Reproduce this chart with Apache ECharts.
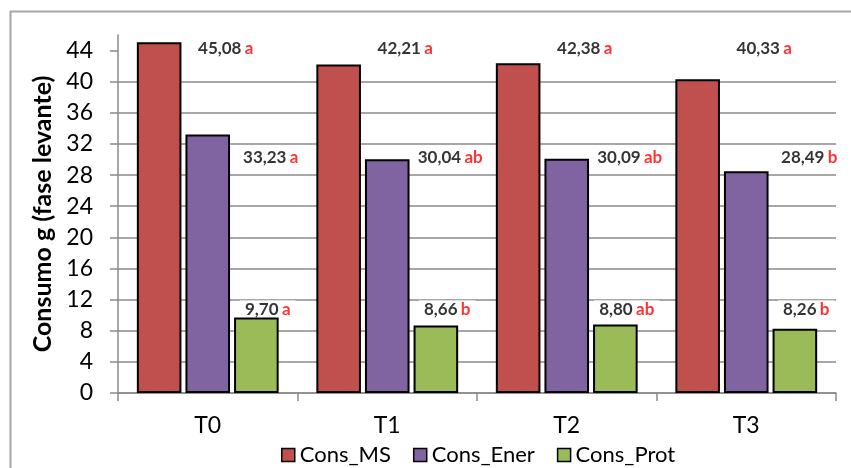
<!DOCTYPE html>
<html>
<head>
<meta charset="utf-8">
<script src="https://cdn.jsdelivr.net/npm/echarts@6/dist/echarts.min.js"></script>
<style>
  html, body { margin: 0; padding: 0; background: #fff; }
  #chart { width: 851px; height: 468px; }
</style>
</head>
<body>
<div id="chart"></div>
<script>
// data
const categories = ["T0", "T1", "T2", "T3"];
const consMS = [45.08, 42.21, 42.38, 40.33];
const consEner = [33.23, 30.04, 30.09, 28.49];
const consProt = [9.70, 8.66, 8.80, 8.26];
const lettersMS = ["a", "a", "a", "a"];
const lettersEner = ["a", "ab", "ab", "b"];
const lettersProt = ["a", "b", "ab", "b"];
const yTicks = [0, 4, 8, 12, 16, 20, 24, 28, 32, 36, 40, 44];

const font = "Lato, 'Open Sans', sans-serif";
const gridGray = "#8a8a8a";

function fmt(v) {
  return v.toFixed(2).replace(".", ",");
}

// text labels drawn next to the bars, like in the spreadsheet chart
function labelSeries(values, letters, level, dx) {
  return {
    type: "scatter",
    symbolSize: 0,
    silent: true,
    z: 1,
    data: categories.map((c, i) => [i, level]),
    label: {
      show: true,
      position: "inside",
      offset: [dx, 0],
      backgroundColor: "#fff",
      padding: [1, 5],
      formatter: (p) => "{v|" + fmt(values[p.dataIndex]) + "} {s|" + letters[p.dataIndex] + "}",
      rich: {
        v: { fontFamily: font, fontSize: 17, fontWeight: "bold", color: "#000" },
        s: { fontFamily: font, fontSize: 17, fontWeight: "bold", color: "#ff0000" },
      },
    },
  };
}

function barSeries(name, values, color) {
  return {
    name: name,
    type: "bar",
    z: 2,
    data: values,
    barGap: "9%",
    barCategoryGap: "21%",
    itemStyle: { color: color, borderColor: "#000", borderWidth: 2 },
  };
}

let myChart = echarts.init(document.getElementById("chart"));

let option = {
  backgroundColor: "#fff",
  animation: false,
  graphic: [
    {
      type: "rect",
      shape: { x: 10.5, y: 11.5, width: 900, height: 600 },
      style: { fill: "none", stroke: "#a6a6a6", lineWidth: 2 },
      silent: true,
    },
  ],
  legend: {
    left: 281,
    top: 444,
    padding: 0,
    itemWidth: 13,
    itemHeight: 13,
    itemGap: 22,
    icon: "rect",
    itemStyle: { borderColor: "#000", borderWidth: 1.5 },
    textStyle: { fontFamily: font, fontSize: 22, color: "#000", lineHeight: 22 },
    data: ["Cons_MS", "Cons_Ener", "Cons_Prot"],
  },
  grid: {
    left: 118,
    right: 15,
    top: 35,
    bottom: 75,
  },
  xAxis: {
    type: "category",
    data: categories,
    axisLine: { lineStyle: { color: gridGray, width: 1.5 } },
    axisTick: { show: true, length: 8, lineStyle: { color: gridGray, width: 1.5 } },
    axisLabel: { fontFamily: font, fontSize: 23, color: "#000", margin: 21 },
  },
  yAxis: {
    type: "value",
    min: 0,
    max: 46,
    interval: 4,
    name: "Consumo g (fase levante)",
    nameLocation: "middle",
    nameGap: 58,
    nameTextStyle: { fontFamily: font, fontSize: 25, fontWeight: "bold", color: "#000" },
    axisLine: { show: true, lineStyle: { color: gridGray, width: 1.5 } },
    axisTick: { show: true, length: 8, customValues: yTicks, lineStyle: { color: gridGray, width: 1.5 } },
    axisLabel: { fontFamily: font, fontSize: 23, color: "#000", margin: 25, showMaxLabel: false },
    splitLine: { show: true, showMaxLine: false, lineStyle: { color: gridGray, width: 1.5 } },
  },
  series: [
    barSeries("Cons_MS", consMS, "#c0504d"),
    barSeries("Cons_Ener", consEner, "#8064a2"),
    barSeries("Cons_Prot", consProt, "#9bbb59"),
    labelSeries(consMS, lettersMS, 44.25, 18),
    labelSeries(consEner, lettersEner, 30.25, 63),
    labelSeries(consProt, lettersProt, 10.7, 60),
  ],
};
myChart.setOption(option);
</script>
</body>
</html>
